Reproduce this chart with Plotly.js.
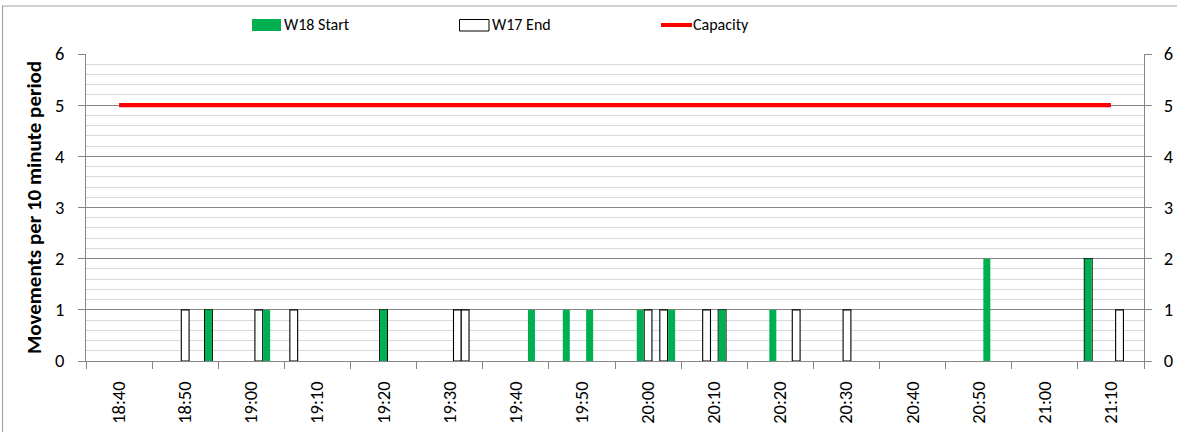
<!DOCTYPE html>
<html><head><meta charset="utf-8">
<script src="https://cdn.plot.ly/plotly-3.0.1.min.js"></script>
<style>html,body{margin:0;padding:0;background:#fff}#chart{width:1177px;height:432px}</style>
</head><body><div id="chart"></div>
<script>
// ---- data ----
const tickLabels = ["18:40","18:50","19:00","19:10","19:20","19:30","19:40","19:50",
  "20:00","20:10","20:20","20:30","20:40","20:50","21:00","21:10"];

const w17EndTimes = ["18:50:00","18:53:31","19:01:08","19:06:25","19:20:00","19:31:10","19:32:20",
  "20:00:00","20:02:22","20:08:51","20:11:12","20:22:24","20:30:05","21:06:34","21:11:18"];
const w17EndValues = [1,1,1,1,1,1,1,1,1,1,1,1,1,2,1];

const w18StartTimes = ["18:53:31","19:02:19","19:20:00","19:42:22","19:47:38","19:51:10","19:58:49",
  "20:03:34","20:11:12","20:18:52","20:51:14","21:06:34"];
const w18StartValues = [1,1,1,1,1,1,1,1,1,1,2,2];

const capacityTimes = ["18:40","18:50","19:00","19:10","19:20","19:30","19:40","19:50",
  "20:00","20:10","20:20","20:30","20:40","20:50","21:00","21:10"];
const capacityValues = [5,5,5,5,5,5,5,5,5,5,5,5,5,5,5,5];

// ---- helpers ----
function toMin(t){const p=t.split(':').map(Number);return p[0]*60+p[1]+(p[2]||0)/60;}
const FONT = 'Carlito, Lato, "Open Sans", sans-serif';
const AXC = '#868686';
const L = 86, R = 1144, T = 54, B = 361, W = 1177, H = 432;
const px = x => (x - L) / (R - L);
const py = y => (B - y) / (B - T);

const tickVals = tickLabels.map(toMin);
const boundaryVals = tickVals.map(v => v - 5).concat([tickVals[tickVals.length-1] + 5]);
const xMin = boundaryVals[0], xMax = boundaryVals[boundaryVals.length-1];
const pxPerMin = (R - L) / (xMax - xMin);

const traces = [
  {type:'bar', name:'W17 End', x:w17EndTimes.map(toMin), y:w17EndValues, width:7.8/pxPerMin,
   marker:{color:'#ffffff', line:{color:'#000000', width:1.1}}, yaxis:'y', showlegend:false},
  {type:'scatter', mode:'lines', name:'Capacity', x:capacityTimes.map(toMin), y:capacityValues,
   line:{color:'#ff0000', width:4.3}, yaxis:'y', showlegend:false},
  {type:'bar', name:'W18 Start', x:w18StartTimes.map(toMin), y:w18StartValues, width:7.0/pxPerMin,
   marker:{color:'#00b050', line:{width:0}}, yaxis:'y2', showlegend:false}
];

const shapes = [
  // chart border
  {type:'rect', xref:'paper', yref:'paper', x0:px(2.5), x1:px(1200), y0:py(450), y1:py(6),
   line:{color:'#a6a6a6', width:1.2}, fillcolor:'rgba(0,0,0,0)', layer:'below'},
  // legend swatches
  {type:'rect', xref:'paper', yref:'paper', x0:px(252), x1:px(281), y0:py(31), y1:py(19),
   line:{width:0}, fillcolor:'#00b050'},
  {type:'rect', xref:'paper', yref:'paper', x0:px(459.5), x1:px(489), y0:py(31), y1:py(19.5),
   line:{color:'#000000', width:1}, fillcolor:'#ffffff'},
  {type:'line', xref:'paper', yref:'paper', x0:px(661), x1:px(692), y0:py(25), y1:py(25),
   line:{color:'#ff0000', width:4}}
];
const legFont = {family:FONT, size:16, color:'#000'};
const annotations = [
  {xref:'paper', yref:'paper', x:px(282), y:py(25), text:'W18 Start', showarrow:false, xanchor:'left', yanchor:'middle', font:legFont},
  {xref:'paper', yref:'paper', x:px(490), y:py(25), text:'W17 End', showarrow:false, xanchor:'left', yanchor:'middle', font:legFont},
  {xref:'paper', yref:'paper', x:px(691), y:py(25), text:'Capacity', showarrow:false, xanchor:'left', yanchor:'middle', font:legFont}
];

const layout = {
  width:W, height:H,
  margin:{l:L, r:W-R, t:T, b:H-B, pad:0},
  paper_bgcolor:'#ffffff', plot_bgcolor:'#ffffff',
  font:{family:FONT, size:16, color:'#000'},
  barmode:'overlay', showlegend:false,
  xaxis:{range:[xMin, xMax], tickmode:'array', tickvals:tickVals, ticktext:tickLabels,
    ticks:'', tickangle:-90, ticklabelstandoff:12, showgrid:false, zeroline:false,
    showline:true, linecolor:AXC, linewidth:1, tickfont:{family:FONT, size:18.5},
    minor:{tickmode:'array', tickvals:boundaryVals, ticks:'outside', ticklen:7, tickcolor:AXC, tickwidth:1, showgrid:false}},
  yaxis:{range:[0,6], tickmode:'linear', tick0:0, dtick:1, ticks:'outside', ticklen:7, tickcolor:AXC,
    showline:true, linecolor:AXC, zeroline:false, showgrid:true, gridcolor:AXC, gridwidth:1,
    ticklabelstandoff:10, tickfont:{family:FONT, size:18.5},
    minor:{tickmode:'linear', dtick:0.2, showgrid:true, gridcolor:'#d9d9d9', gridwidth:1, ticks:''},
    title:{text:'<b>Movements per 10 minute period</b>', standoff:7, font:{family:FONT, size:21}}},
  yaxis2:{range:[0,6], overlaying:'y', side:'right', tickmode:'linear', tick0:0, dtick:1,
    ticks:'outside', ticklen:7, tickcolor:AXC, showline:true, linecolor:AXC, zeroline:false,
    showgrid:false, ticklabelstandoff:8, tickfont:{family:FONT, size:18.5}},
  shapes:shapes, annotations:annotations
};

Plotly.newPlot('chart', traces, layout, {staticPlot:true, displayModeBar:false});
</script>
</body></html>
